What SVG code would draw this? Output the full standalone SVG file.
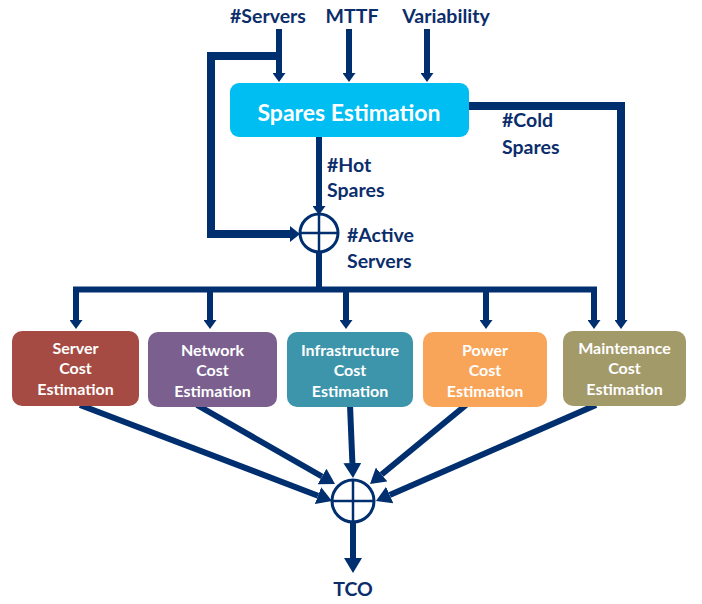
<svg xmlns="http://www.w3.org/2000/svg" width="702" height="604" viewBox="0 0 702 604">
<style>
.lbl{font-family:Lato,"Liberation Sans",sans-serif;font-weight:bold;fill:#0B2D6B;font-size:19.5px}
.box{font-family:Lato,"Liberation Sans",sans-serif;font-weight:bold;fill:#ffffff;font-size:16px;text-anchor:middle}
.title{font-family:Lato,"Liberation Sans",sans-serif;font-weight:bold;fill:#ffffff;font-size:23px;text-anchor:middle}
.ln{stroke:#002F6F;fill:none;stroke-linejoin:miter}
.sum{stroke:#002F6F;stroke-width:3;fill:#ffffff}
.x{stroke:#002F6F;stroke-width:2.5}
</style>
<defs>
<marker id="sm" markerUnits="userSpaceOnUse" viewBox="0 0 9 13" refX="0" refY="6.5" markerWidth="9" markerHeight="13" orient="auto"><path d="M0,0 L9,6.5 L0,13 z" fill="#002F6F"/></marker>
<marker id="fb" markerUnits="userSpaceOnUse" viewBox="0 0 10 16" refX="0" refY="8" markerWidth="10" markerHeight="16" orient="auto"><path d="M0,0 L10,8 L0,16 z" fill="#002F6F"/></marker>
<marker id="bg" markerUnits="userSpaceOnUse" viewBox="0 0 15 18" refX="0" refY="9" markerWidth="15" markerHeight="18" orient="auto"><path d="M0,0 L15,9 L0,18 z" fill="#002F6F"/></marker>
</defs>
<rect width="702" height="604" fill="#ffffff"/>

<g id="inputs">
<text class="lbl" x="268" y="23" text-anchor="middle">#Servers</text>
<text class="lbl" x="352" y="23" text-anchor="middle">MTTF</text>
<text class="lbl" x="446" y="23" text-anchor="middle">Variability</text>
</g>

<g id="connectors">
<line class="ln" x1="279" y1="29" x2="279" y2="73" stroke-width="6" marker-end="url(#sm)"/>
<line class="ln" x1="349" y1="29" x2="349" y2="73" stroke-width="6" marker-end="url(#sm)"/>
<line class="ln" x1="427" y1="29" x2="427" y2="73" stroke-width="6" marker-end="url(#sm)"/>
<path class="ln" d="M279,56 H211 V234 H290" stroke-width="8" marker-end="url(#fb)"/>
<line class="ln" x1="319" y1="137" x2="319" y2="206" stroke-width="6" marker-end="url(#sm)"/>
<path class="ln" d="M469,106 H621 V320" stroke-width="8" marker-end="url(#sm)"/>
<line class="ln" x1="319" y1="252" x2="319" y2="290" stroke-width="6"/>
<line class="ln" x1="73" y1="289.5" x2="597" y2="289.5" stroke-width="6"/>
<line class="ln" x1="76" y1="287" x2="76" y2="320" stroke-width="6" marker-end="url(#sm)"/>
<line class="ln" x1="210" y1="287" x2="210" y2="320" stroke-width="6" marker-end="url(#sm)"/>
<line class="ln" x1="346" y1="287" x2="346" y2="320" stroke-width="6" marker-end="url(#sm)"/>
<line class="ln" x1="486" y1="287" x2="486" y2="320" stroke-width="6" marker-end="url(#sm)"/>
<line class="ln" x1="594" y1="287" x2="594" y2="320" stroke-width="6" marker-end="url(#sm)"/>
<line class="ln" x1="80" y1="405" x2="318" y2="495.7" stroke-width="6" marker-end="url(#bg)"/>
<line class="ln" x1="197" y1="405" x2="322" y2="476.5" stroke-width="6" marker-end="url(#bg)"/>
<line class="ln" x1="350" y1="405" x2="352.4" y2="463" stroke-width="6" marker-end="url(#bg)"/>
<line class="ln" x1="466" y1="405" x2="381.6" y2="474.5" stroke-width="6" marker-end="url(#bg)"/>
<line class="ln" x1="596" y1="405" x2="389.7" y2="495" stroke-width="6" marker-end="url(#bg)"/>
<line class="ln" x1="353" y1="523" x2="353" y2="558" stroke-width="6" marker-end="url(#bg)"/>
</g>

<g id="spares">
<rect x="230" y="83" width="239" height="54" rx="9" fill="#00BDF2"/>
<text class="title" x="349" y="121">Spares Estimation</text>
</g>

<g id="labels">
<text class="lbl" x="327" y="172">#Hot</text>
<text class="lbl" x="327" y="197">Spares</text>
<text class="lbl" x="347" y="242">#Active</text>
<text class="lbl" x="347" y="268">Servers</text>
<text class="lbl" x="502" y="127">#Cold</text>
<text class="lbl" x="502" y="154">Spares</text>
</g>

<g id="sum-active">
<circle class="sum" cx="319" cy="233" r="19"/>
<line class="x" x1="300" y1="233" x2="338" y2="233"/>
<line class="x" x1="319" y1="214" x2="319" y2="252"/>
</g>

<g id="server">
<rect x="12" y="331" width="127" height="75" rx="10" fill="#A64B43"/>
<text class="box" x="75.5" y="354">Server</text>
<text class="box" x="75.5" y="374">Cost</text>
<text class="box" x="75.5" y="395">Estimation</text>
</g>
<g id="network">
<rect x="148" y="332" width="129" height="75" rx="10" fill="#7A5F8F"/>
<text class="box" x="212.5" y="356">Network</text>
<text class="box" x="212.5" y="376">Cost</text>
<text class="box" x="212.5" y="397">Estimation</text>
</g>
<g id="infrastructure">
<rect x="287" y="332" width="126" height="75" rx="10" fill="#3D95AC"/>
<text class="box" x="350" y="356">Infrastructure</text>
<text class="box" x="350" y="376">Cost</text>
<text class="box" x="350" y="397">Estimation</text>
</g>
<g id="power">
<rect x="423" y="332" width="124" height="75" rx="10" fill="#F8A55A"/>
<text class="box" x="485" y="356">Power</text>
<text class="box" x="485" y="376">Cost</text>
<text class="box" x="485" y="397">Estimation</text>
</g>
<g id="maintenance">
<rect x="563" y="331" width="123" height="75" rx="10" fill="#A39A69"/>
<text class="box" x="624.5" y="354">Maintenance</text>
<text class="box" x="624.5" y="374">Cost</text>
<text class="box" x="624.5" y="395">Estimation</text>
</g>

<g id="sum-tco">
<circle class="sum" cx="353" cy="501" r="21"/>
<line class="x" x1="332" y1="501" x2="374" y2="501"/>
<line class="x" x1="353" y1="480" x2="353" y2="522"/>
</g>

<g id="tco">
<text class="lbl" x="353" y="596" text-anchor="middle">TCO</text>
</g>
</svg>
